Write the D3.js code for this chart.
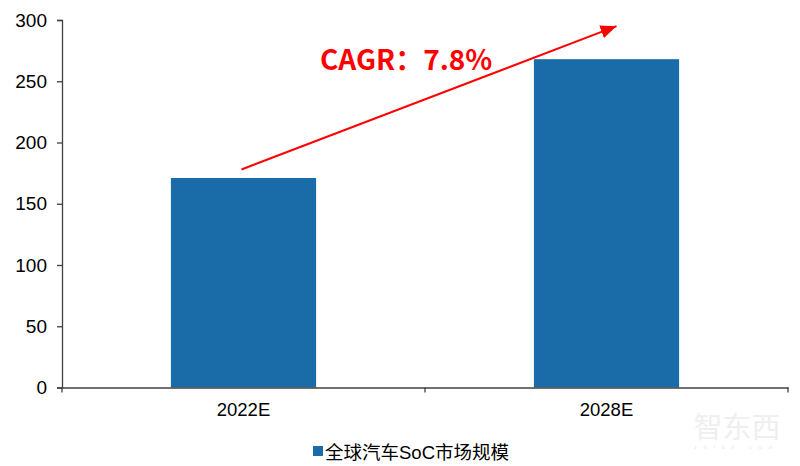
<!DOCTYPE html>
<html>
<head>
<meta charset="utf-8">
<script src="https://cdn.jsdelivr.net/npm/d3@7/dist/d3.min.js"></script>
<style>
  html, body { margin: 0; padding: 0; background: #fff; }
  svg { display: block; }
  text { font-family: "Liberation Sans", Arial, sans-serif; fill: #000; }
</style>
</head>
<body>
<div id="chart"></div>
<script>
var years = ["2022E", "2028E"];
var marketSize = [171, 268];
var yTicks = [0, 50, 100, 150, 200, 250, 300];
var legendLabel = "全球汽车SoC市场规模";
var cagrLabel = "CAGR：7.8%";
// arrow ends, in chart values
var arrowValues = [178, 295];

var width = 800;
var height = 466;

var svg = d3.select("#chart").append("svg").attr("width", width).attr("height", height);

var x = d3.scaleBand().domain(years).range([62, 788]).paddingInner(0.6).paddingOuter(0.3);
var y = d3.scaleLinear().domain([0, 300]).range([387.5, 20]);

svg.selectAll(".bar").data(marketSize).enter().append("rect")
  .attr("class", "bar")
  .attr("x", function(d, i) { return x(years[i]); })
  .attr("y", function(d) { return y(d); })
  .attr("width", x.bandwidth())
  .attr("height", function(d) { return y(0) - y(d); })
  .attr("fill", "#1a6ca8");

var yAxis = d3.axisLeft(y).tickValues(yTicks).tickSize(5).tickPadding(10);
var gy = svg.append("g").attr("transform", "translate(62,0)").call(yAxis);
gy.selectAll("text").attr("font-size", 19).style("font-family", '"Liberation Sans", Arial, sans-serif');
gy.selectAll("line, path").attr("stroke", "#404040").attr("stroke-width", 1.3);

var xAxis = d3.axisBottom(x).tickSize(0).tickPadding(15);
var gx = svg.append("g").attr("transform", "translate(0," + y(0) + ")").call(xAxis);
gx.selectAll("text").attr("font-size", 18.5).style("font-family", '"Liberation Sans", Arial, sans-serif');
gx.selectAll("path").attr("stroke", "#404040").attr("stroke-width", 1.3);
gx.selectAll(".tick line").remove();

// category separators under the axis
svg.selectAll(".sep").data([62, (x(years[0]) + x(years[1]) + x.bandwidth()) / 2, 788]).enter().append("line")
  .attr("class", "sep")
  .attr("x1", function(d) { return d; })
  .attr("x2", function(d) { return d; })
  .attr("y1", y(0))
  .attr("y2", y(0) + 5)
  .attr("stroke", "#404040")
  .attr("stroke-width", 1.3);

// CAGR arrow
var defs = svg.append("defs");
defs.append("marker").attr("id", "head")
  .attr("viewBox", "0 0 12 10").attr("refX", 12).attr("refY", 5)
  .attr("markerUnits", "userSpaceOnUse").attr("markerWidth", 16).attr("markerHeight", 13.5)
  .attr("orient", "auto")
  .append("path").attr("d", "M0,0L12,5L0,10Z").attr("fill", "#ff0000");

svg.append("line")
  .attr("x1", x(years[0]) + x.bandwidth() / 2 - 2)
  .attr("y1", y(arrowValues[0]))
  .attr("x2", x(years[1]) + x.bandwidth() / 2 + 10)
  .attr("y2", y(arrowValues[1]))
  .attr("stroke", "#ff0000")
  .attr("stroke-width", 2)
  .attr("marker-end", "url(#head)");

svg.append("text")
  .attr("x", 320).attr("y", 70)
  .attr("font-size", 28)
  .attr("font-weight", "bold")
  .style("font-family", '"Noto Sans CJK SC", "Open Sans", sans-serif')
  .style("fill", "#ff0000")
  .text(cagrLabel);

// legend
svg.append("rect").attr("x", 313).attr("y", 446).attr("width", 10).attr("height", 10).attr("fill", "#1a6ca8");
svg.append("text")
  .attr("x", 325).attr("y", 458.5)
  .attr("font-size", 18.5)
  .style("font-family", '"Liberation Sans", "Noto Sans CJK SC", sans-serif')
  .text(legendLabel);

// watermark
svg.append("text").attr("x", 737).attr("y", 438)
  .attr("text-anchor", "middle").attr("font-size", 29)
  .style("font-family", '"Liberation Sans", "Noto Sans CJK SC", sans-serif')
  .style("fill", "#efefef").text("智东西");
svg.append("text").attr("x", 737).attr("y", 449)
  .attr("text-anchor", "middle").attr("font-size", 5).attr("letter-spacing", 7)
  .style("fill", "#e8e8e8").text("zhidx.com");
</script>
</body>
</html>
